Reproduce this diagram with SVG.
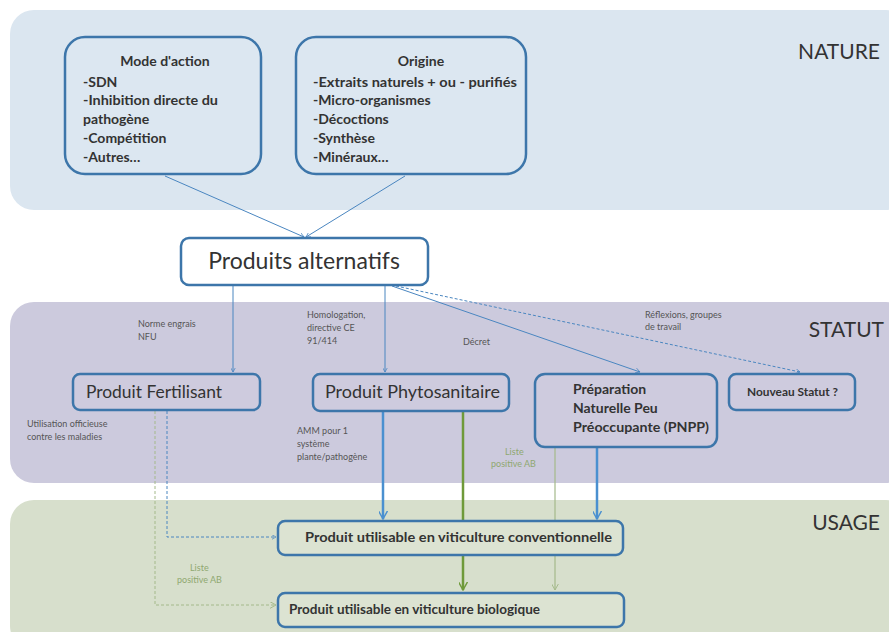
<svg xmlns="http://www.w3.org/2000/svg" width="889" height="632" viewBox="0 0 889 632">
<style>
.t{font-family:Lato,"Liberation Sans",sans-serif;fill:#333}
.b{font-weight:bold}
.s{font-size:9px;fill:#555}
.g{fill:#8fa870}
.box{stroke:#3d76aa;stroke-width:2.5}
.ln{stroke:#4a86c0;fill:none}
.band{font-family:Lato,"Liberation Sans",sans-serif;font-size:21px;fill:#333}
</style>
<defs>
<marker id="ab" viewBox="0 0 10 10" refX="9" refY="5" markerWidth="5" markerHeight="5" orient="auto" markerUnits="userSpaceOnUse"><path d="M0,0 L9,5 L0,10" fill="none" stroke="#4a86c0" stroke-width="1.5"/></marker>
<marker id="abb" viewBox="0 0 10 10" refX="9" refY="5" markerWidth="9" markerHeight="9" orient="auto" markerUnits="userSpaceOnUse"><path d="M0,0 L9,5 L0,10" fill="none" stroke="#4a90d0" stroke-width="1.6"/></marker>
<marker id="agb" viewBox="0 0 10 10" refX="9" refY="5" markerWidth="9" markerHeight="9" orient="auto" markerUnits="userSpaceOnUse"><path d="M0,0 L9,5 L0,10" fill="none" stroke="#6f9a3a" stroke-width="1.6"/></marker>
<marker id="agt" viewBox="0 0 10 10" refX="9" refY="5" markerWidth="7" markerHeight="7" orient="auto" markerUnits="userSpaceOnUse"><path d="M0,0 L9,5 L0,10" fill="none" stroke="#a4b98a" stroke-width="1.4"/></marker>
</defs>
<rect width="889" height="632" fill="#fff"/>
<g id="bands">
<rect x="10" y="10" width="900" height="200" rx="24" fill="#dbe6f0"/>
<rect x="10" y="302" width="900" height="181" rx="24" fill="#cccadd"/>
<rect x="10" y="500" width="900" height="150" rx="24" fill="#d7dfcc"/>
<text class="band" x="880" y="59" text-anchor="end">NATURE</text>
<text class="band" x="884" y="337" text-anchor="end">STATUT</text>
<text class="band" x="880" y="530" text-anchor="end">USAGE</text>
</g>
<g id="connectors">
<line class="ln" x1="165" y1="176" x2="304" y2="237" marker-end="url(#ab)"/>
<line class="ln" x1="405" y1="176" x2="306" y2="237" marker-end="url(#ab)"/>
<line class="ln" x1="233" y1="286" x2="233" y2="372" marker-end="url(#ab)"/>
<line class="ln" x1="385" y1="286" x2="385" y2="372" marker-end="url(#ab)"/>
<line class="ln" x1="392" y1="286" x2="640" y2="372" marker-end="url(#ab)"/>
<line class="ln" x1="396" y1="286" x2="800" y2="372" stroke-dasharray="3,2" marker-end="url(#ab)"/>
<line x1="383" y1="412" x2="383" y2="519" stroke="#4a90d0" stroke-width="2.5" marker-end="url(#abb)"/>
<line x1="597" y1="448" x2="597" y2="519" stroke="#4a90d0" stroke-width="2.5" marker-end="url(#abb)"/>
<line x1="463" y1="412" x2="463" y2="590" stroke="#6f9a3a" stroke-width="2.5" marker-end="url(#agb)"/>
<line x1="555" y1="448" x2="555" y2="590" stroke="#a4b98a" stroke-width="1.2" marker-end="url(#agt)"/>
<polyline class="ln" points="167,411 167,537 276,537" stroke-dasharray="3,2" marker-end="url(#ab)"/>
<polyline points="155,411 155,605 276,605" fill="none" stroke="#a4b98a" stroke-dasharray="3,2" marker-end="url(#agt)"/>
</g>
<g id="mode">
<rect class="box" x="65" y="37" width="196" height="137" rx="20" fill="#dce7f1"/>
<text class="t b" x="165" y="66" font-size="14" text-anchor="middle">Mode d'action</text>
<text class="t b" font-size="14"><tspan x="83" y="87">-SDN</tspan><tspan x="83" y="105" textLength="135" lengthAdjust="spacingAndGlyphs">-Inhibition directe du</tspan><tspan x="83" y="124">pathogène</tspan><tspan x="83" y="143">-Compétition</tspan><tspan x="83" y="162">-Autres…</tspan></text>
</g>
<g id="origine">
<rect class="box" x="296" y="37" width="230" height="137" rx="20" fill="#dce7f1"/>
<text class="t b" x="421" y="66" font-size="14" text-anchor="middle">Origine</text>
<text class="t b" font-size="14"><tspan x="313" y="87" textLength="204" lengthAdjust="spacingAndGlyphs">-Extraits naturels + ou - purifiés</tspan><tspan x="313" y="105">-Micro-organismes</tspan><tspan x="313" y="124">-Décoctions</tspan><tspan x="313" y="143">-Synthèse</tspan><tspan x="313" y="162">-Minéraux…</tspan></text>
</g>
<g id="alternatifs">
<rect class="box" x="181" y="238" width="247" height="47" rx="8" fill="#fff" stroke-width="2"/>
<text class="t" x="304" y="269" font-size="23" text-anchor="middle">Produits alternatifs</text>
</g>
<g id="labels">
<text class="t s"><tspan x="138" y="327">Norme engrais</tspan><tspan x="138" y="340">NFU</tspan></text>
<text class="t s"><tspan x="307" y="318">Homologation,</tspan><tspan x="307" y="331">directive CE</tspan><tspan x="307" y="344">91/414</tspan></text>
<text class="t s" x="463" y="345">Décret</text>
<text class="t s"><tspan x="645" y="318">Réflexions, groupes</tspan><tspan x="645" y="330">de travail</tspan></text>
<text class="t s"><tspan x="27" y="427">Utilisation officieuse</tspan><tspan x="27" y="440">contre les maladies</tspan></text>
<text class="t s"><tspan x="297" y="434">AMM pour 1</tspan><tspan x="297" y="447">système</tspan><tspan x="297" y="460">plante/pathogène</tspan></text>
<text class="t s g"><tspan x="505" y="455">Liste</tspan><tspan x="491" y="467">positive AB</tspan></text>
<text class="t s g"><tspan x="190" y="571">Liste</tspan><tspan x="177" y="583">positive AB</tspan></text>
</g>
<g id="fertilisant">
<rect class="box" x="73" y="374" width="187" height="36" rx="7" fill="#cecbde"/>
<text class="t" x="86" y="398" font-size="17" textLength="136" lengthAdjust="spacingAndGlyphs">Produit Fertilisant</text>
</g>
<g id="phyto">
<rect class="box" x="313" y="374" width="196" height="37" rx="7" fill="#cecbde"/>
<text class="t" x="325" y="398" font-size="17" textLength="175" lengthAdjust="spacingAndGlyphs">Produit Phytosanitaire</text>
</g>
<g id="pnpp">
<rect class="box" x="535" y="374" width="182" height="73" rx="10" fill="#cecbde"/>
<text class="t b" font-size="14"><tspan x="573" y="394">Préparation</tspan><tspan x="573" y="413">Naturelle Peu</tspan><tspan x="573" y="432" textLength="136" lengthAdjust="spacingAndGlyphs">Préoccupante (PNPP)</tspan></text>
</g>
<g id="nouveau">
<rect class="box" x="729" y="374" width="126" height="36" rx="7" fill="#cecbde"/>
<text class="t b" x="747" y="396" font-size="12" textLength="91" lengthAdjust="spacingAndGlyphs">Nouveau Statut ?</text>
</g>
<g id="conventionnelle">
<rect class="box" x="278" y="521" width="345" height="34" rx="7" fill="#dce3d2"/>
<text class="t b" x="305" y="542" font-size="14" textLength="307" lengthAdjust="spacingAndGlyphs">Produit utilisable en viticulture conventionnelle</text>
</g>
<g id="biologique">
<rect class="box" x="278" y="593" width="346" height="34" rx="7" fill="#dce3d2"/>
<text class="t b" x="289" y="614" font-size="14" textLength="251" lengthAdjust="spacingAndGlyphs">Produit utilisable en viticulture biologique</text>
</g>
</svg>
